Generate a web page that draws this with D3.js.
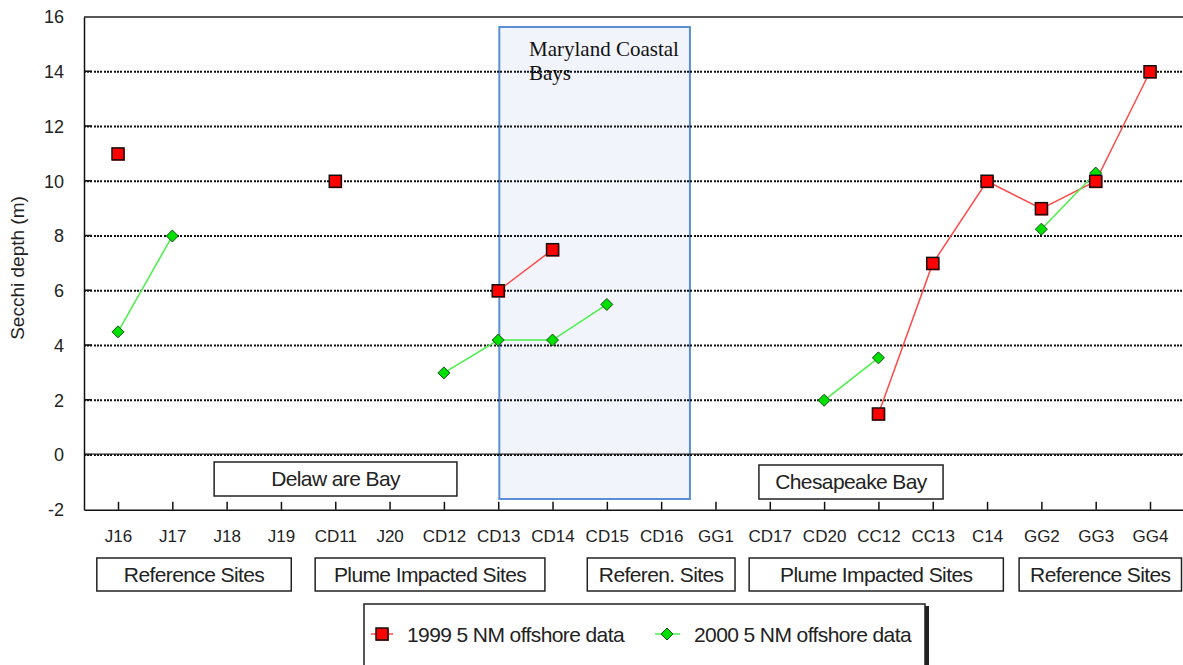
<!DOCTYPE html>
<html lang="en">
<head>
  <meta charset="UTF-8">
  <title>Secchi depth</title>
  <style>
    body { margin: 0; background: #fff; }
    svg { display: block; font-family: "Liberation Sans", Arial, sans-serif; }
  </style>
</head>
<body>
  <div id="chart"></div>
  <script src="https://d3js.org/d3.v7.min.js"></script>
  <script>
    const WIDTH = 1183;
    const HEIGHT = 665;

    // site names along the x axis
    const sites = ['J16','J17','J18','J19','CD11','J20','CD12','CD13','CD14','CD15',
                   'CD16','GG1','CD17','CD20','CC12','CC13','C14','GG2','GG3','GG4'];
    // secchi depth (m), null = no sample
    const data1999 = [11, null, null, null, 10, null, null, 6, 7.5, null,
                      null, null, null, null, 1.5, 7, 10, 9, 10, 14];
    const data2000 = [4.5, 8, null, null, null, null, 3, 4.2, 4.2, 5.5,
                      null, null, null, 2, 3.55, null, null, 8.25, 10.3, null];
    const yTicks = [-2, 0, 2, 4, 6, 8, 10, 12, 14, 16];
    const seriesNames = ['1999 5 NM offshore data', '2000 5 NM offshore data'];

    // group labels under the axis (span given in site index units)
    const groupLabels = ['Reference Sites', 'Plume Impacted Sites', 'Referen. Sites', 'Plume Impacted Sites', 'Reference Sites'];
    const groupSpans = [[-0.39, 3.19], [3.63, 7.86], [8.64, 11.36], [11.62, 16.3], [16.59, 19.58]];

    const margin = {top: 17, left: 84};
    const plotBottom = 509.8;

    const svg = d3.select('#chart').append('svg')
      .attr('width', WIDTH)
      .attr('height', HEIGHT);

    const x = d3.scalePoint()
      .domain(sites)
      .range([margin.left, 1184])
      .padding(0.626);
    const step = x.step();
    const xi = i => x(sites[0]) + i * step;

    const y = d3.scaleLinear()
      .domain([-2, 16])
      .range([plotBottom, margin.top]);

    // Maryland Coastal Bays highlight (under the grid)
    svg.append('rect')
      .attr('x', xi(7.02)).attr('y', 27)
      .attr('width', xi(10.53) - xi(7.02)).attr('height', 499 - 27)
      .attr('fill', '#f1f4fa')
      .attr('stroke', '#5b8fd5')
      .attr('stroke-width', 2);
    const serif = '"Liberation Serif", "Times New Roman", serif';
    svg.append('text')
      .attr('x', 529).attr('y', 56)
      .attr('font-family', serif)
      .attr('font-size', 21)
      .attr('fill', '#111')
      .text('Maryland Coastal');
    svg.append('text')
      .attr('x', 529).attr('y', 80)
      .attr('font-family', serif)
      .attr('font-size', 21)
      .attr('fill', '#111')
      .text('Bays');

    // grid lines
    const grid = svg.append('g');
    yTicks.filter(t => t > -2 && t < 16).forEach(t => {
      grid.append('line')
        .attr('x1', margin.left).attr('x2', WIDTH)
        .attr('y1', y(t)).attr('y2', y(t))
        .attr('stroke', '#111')
        .attr('stroke-width', 2)
        .attr('stroke-dasharray', '2,1,2,1,2,2');
      grid.append('line')
        .attr('x1', margin.left).attr('x2', margin.left + 8)
        .attr('y1', y(t) - 0.5).attr('y2', y(t) - 0.5)
        .attr('stroke', '#111')
        .attr('stroke-width', 1.5);
    });
    // zero line is solid
    grid.append('line')
      .attr('x1', margin.left).attr('x2', WIDTH)
      .attr('y1', y(0) - 1).attr('y2', y(0) - 1)
      .attr('stroke', '#222').attr('stroke-width', 1.2);
    // top border
    svg.append('line')
      .attr('x1', margin.left).attr('x2', WIDTH)
      .attr('y1', y(16)).attr('y2', y(16))
      .attr('stroke', '#222').attr('stroke-width', 1.5);

    // axes
    const yAxis = d3.axisLeft(y).tickValues(yTicks).tickSize(0).tickPadding(20)
      .tickFormat(d => String(d));
    svg.append('g')
      .attr('transform', `translate(${margin.left},0)`)
      .call(yAxis)
      .call(g => g.select('.domain').attr('stroke', '#111').attr('stroke-width', 1.5))
      .call(g => g.selectAll('text').attr('font-size', 18).attr('fill', '#222')
        .attr('font-family', '"Liberation Sans", Arial, sans-serif'));

    const xAxis = d3.axisBottom(x).tickSizeInner(-8).tickSizeOuter(0).tickPadding(20);
    svg.append('g')
      .attr('transform', `translate(0,${plotBottom})`)
      .call(xAxis)
      .call(g => g.select('.domain').attr('stroke', '#111').attr('stroke-width', 1.5))
      .call(g => g.selectAll('.tick line').attr('stroke', '#111').attr('stroke-width', 1.5))
      .call(g => g.selectAll('text').attr('font-size', 17).attr('fill', '#222')
        .attr('font-family', '"Liberation Sans", Arial, sans-serif'));

    // y title
    svg.append('text')
      .attr('transform', 'translate(24,268) rotate(-90)')
      .attr('text-anchor', 'middle')
      .attr('font-size', 19)
      .attr('fill', '#222')
      .text('Secchi depth (m)');

    // label box helper
    function labelBox(x0, x1, y0, y1, label, size) {
      svg.append('rect')
        .attr('x', x0).attr('y', y0)
        .attr('width', x1 - x0).attr('height', y1 - y0)
        .attr('fill', '#fff')
        .attr('stroke', '#222')
        .attr('stroke-width', 1.5);
      svg.append('text')
        .attr('x', (x0 + x1) / 2).attr('y', (y0 + y1) / 2 + 7)
        .attr('text-anchor', 'middle')
        .attr('font-size', size)
        .attr('letter-spacing', -0.6)
        .attr('fill', '#222')
        .text(label);
    }

    labelBox(xi(1.77), xi(6.24), 462, 496, 'Delaw are Bay', 21);
    labelBox(xi(11.8), xi(15.19), 465, 499, 'Chesapeake Bay', 21);
    groupLabels.forEach((g, i) => {
      labelBox(xi(groupSpans[i][0]), xi(groupSpans[i][1]), 558, 591, g, 21);
    });

    // series lines with gaps
    const line = d3.line()
      .defined(d => d.v !== null)
      .x(d => x(d.s))
      .y(d => y(d.v));
    const rows1999 = sites.map((s, i) => ({s, v: data1999[i]}));
    const rows2000 = sites.map((s, i) => ({s, v: data2000[i]}));

    svg.append('path').datum(rows1999)
      .attr('d', line).attr('fill', 'none')
      .attr('stroke', '#ff4a4a').attr('stroke-width', 1.5);
    svg.append('path').datum(rows2000)
      .attr('d', line).attr('fill', 'none')
      .attr('stroke', '#4af04a').attr('stroke-width', 1.5);

    function square(g, cx, cy) {
      g.append('rect').attr('x', cx - 6).attr('y', cy - 5)
        .attr('width', 13).attr('height', 12).attr('fill', '#ff5050');
      g.append('rect').attr('x', cx - 6).attr('y', cy - 6)
        .attr('width', 12).attr('height', 12)
        .attr('fill', '#ff0000').attr('stroke', '#111').attr('stroke-width', 1.5);
    }
    function diamond(g, cx, cy) {
      g.append('path')
        .attr('d', `M${cx},${cy - 6}L${cx + 6},${cy}L${cx},${cy + 6}L${cx - 6},${cy}Z`)
        .attr('fill', '#00e000').attr('stroke', '#1a4a1a').attr('stroke-width', 1);
    }

    const marks = svg.append('g');
    rows2000.filter(d => d.v !== null).forEach(d => diamond(marks, x(d.s), y(d.v)));
    rows1999.filter(d => d.v !== null).forEach(d => square(marks, x(d.s), y(d.v)));

    // legend
    const lg = svg.append('g');
    lg.append('rect').attr('x', 366).attr('y', 606).attr('width', 563).attr('height', 70)
      .attr('fill', '#222');
    lg.append('rect').attr('x', 364).attr('y', 604).attr('width', 561).attr('height', 70)
      .attr('fill', '#fff').attr('stroke', '#222').attr('stroke-width', 1.5);
    lg.append('line').attr('x1', 371).attr('x2', 393).attr('y1', 634).attr('y2', 634)
      .attr('stroke', '#ff4a4a').attr('stroke-width', 1.5);
    square(lg, 382, 634);
    lg.append('text').attr('x', 407).attr('y', 642).attr('font-size', 21)
      .attr('letter-spacing', -0.6).attr('fill', '#222').text(seriesNames[0]);
    lg.append('line').attr('x1', 655).attr('x2', 680).attr('y1', 634).attr('y2', 634)
      .attr('stroke', '#4af04a').attr('stroke-width', 1.5);
    diamond(lg, 667, 634);
    lg.append('text').attr('x', 694).attr('y', 642).attr('font-size', 21)
      .attr('letter-spacing', -0.6).attr('fill', '#222').text(seriesNames[1]);
  </script>
</body>
</html>
